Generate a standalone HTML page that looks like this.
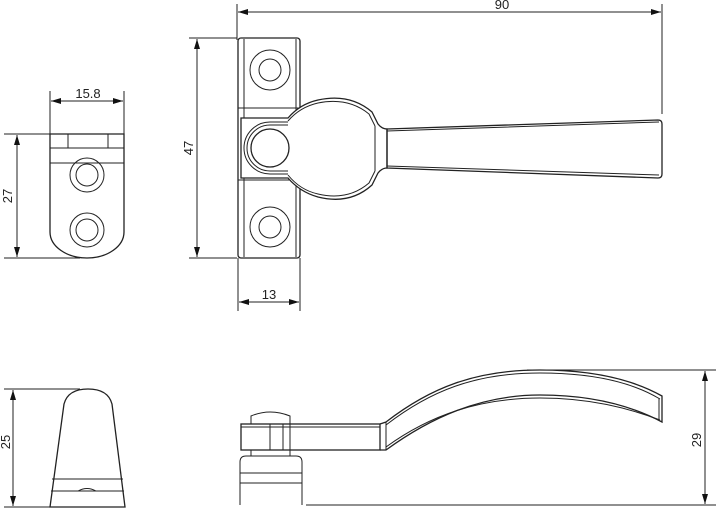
<!DOCTYPE html>
<html><head><meta charset="utf-8"><style>
html,body{margin:0;padding:0;background:#fff;}
svg{display:block}
text{font-family:"Liberation Sans",sans-serif;font-size:13px;fill:#222}
</style></head><body>
<svg width="717" height="508" viewBox="0 0 717 508" xmlns="http://www.w3.org/2000/svg">
<defs>
<marker id="a" viewBox="0 0 10 6" refX="10" refY="3" markerWidth="14" markerHeight="6" markerUnits="userSpaceOnUse" orient="auto-start-reverse">
<path d="M0,0 L10,3 L0,6 Z" fill="#111"/></marker>
</defs>
<g fill="none" stroke="#222" stroke-width="1">
<!-- 90 dim -->
<line x1="237" y1="4" x2="237" y2="40"/>
<line x1="662" y1="4" x2="662" y2="114"/>
<line x1="238" y1="12" x2="661" y2="12" marker-start="url(#a)" marker-end="url(#a)"/>
<!-- 47 dim -->
<line x1="189" y1="38" x2="237" y2="38"/>
<line x1="189" y1="258" x2="237" y2="258"/>
<line x1="197" y1="39" x2="197" y2="257" marker-start="url(#a)" marker-end="url(#a)"/>
<!-- 13 dim -->
<line x1="238" y1="258" x2="238" y2="311"/>
<line x1="300" y1="258" x2="300" y2="311"/>
<line x1="239" y1="302" x2="299" y2="302" marker-start="url(#a)" marker-end="url(#a)"/>
<!-- plate -->
<rect x="238" y="38" width="62" height="220" rx="3" stroke-width="1.3"/>
<line x1="244" y1="39" x2="244" y2="257"/>
<line x1="296" y1="39" x2="296" y2="257"/>
<line x1="238" y1="108" x2="300" y2="108"/>
<line x1="238" y1="180" x2="300" y2="180"/>
<circle cx="270" cy="70" r="20"/><circle cx="270" cy="70" r="11"/>
<circle cx="270" cy="227" r="20"/><circle cx="270" cy="227" r="11"/>
<!-- boss / bulb -->
<path d="M241,118 H288 Q300,104 318,100 Q350,93 372,112 L378,124 Q382,129 387,129 V168 Q382,168 378,173 L372,185 Q350,205 318,197 Q300,192 288,178 H241 Z" fill="#fff" stroke-width="1.3"/>
<path d="M288,121 Q300,107 318,103 Q348,97 369,114 L375,126 M375,171 L369,183 Q348,201 318,194 Q300,190 288,175"/>
<path d="M288,122 H270 A26,26 0 0 0 270,174 H288"/>
<path d="M288,125 H270 A23,23 0 0 0 270,171 H288"/>
<circle cx="270" cy="148" r="19" stroke-width="1.3"/>
<line x1="375" y1="126" x2="375" y2="171"/>
<!-- lever -->
<path d="M387,129 L658,120 Q662,120 662,124 V174 Q662,178 658,178 L387,168 Z" stroke-width="1.3"/>
<path d="M387,131 L659,122 M387,166 L659,175"/>
<!-- left view -->
<line x1="50" y1="91" x2="50" y2="134"/>
<line x1="124" y1="91" x2="124" y2="134"/>
<line x1="51" y1="101" x2="123" y2="101" marker-start="url(#a)" marker-end="url(#a)"/>
<line x1="4" y1="134" x2="50" y2="134"/>
<line x1="4" y1="258" x2="80" y2="258"/>
<line x1="17" y1="135" x2="17" y2="257" marker-start="url(#a)" marker-end="url(#a)"/>
<path d="M50,134 H124 V232 A37,26 0 0 1 87,258 A37,26 0 0 1 50,232 Z" stroke-width="1.3"/>
<line x1="50" y1="148" x2="124" y2="148"/>
<line x1="50" y1="163" x2="124" y2="163"/>
<line x1="68" y1="134" x2="68" y2="148"/>
<line x1="108" y1="134" x2="108" y2="148"/>
<circle cx="87" cy="175" r="17"/><circle cx="87" cy="175" r="11"/>
<circle cx="87" cy="230" r="17"/><circle cx="87" cy="230" r="11"/>
<!-- bottom left -->
<line x1="4" y1="389" x2="80" y2="389"/>
<line x1="4" y1="507" x2="50" y2="507"/>
<line x1="13" y1="390" x2="13" y2="506" marker-start="url(#a)" marker-end="url(#a)"/>
<path d="M50,507 L64,404 Q68,389 88,389 Q108,389 112,404 L125,507 Z" stroke-width="1.3"/>
<line x1="52" y1="479" x2="123" y2="479"/>
<line x1="51" y1="491" x2="124" y2="491"/>
<path d="M78,491 Q87,486 96,491"/>
<!-- bottom right -->
<line x1="527" y1="370" x2="716" y2="370"/>
<line x1="306" y1="505" x2="716" y2="505"/>
<line x1="705" y1="371" x2="705" y2="504" marker-start="url(#a)" marker-end="url(#a)"/>
<path d="M251,424 V416 Q270,408 290,416 V424"/>
<rect x="241" y="424" width="139" height="26" stroke-width="1.3"/>
<line x1="241" y1="427" x2="380" y2="427"/>
<line x1="270" y1="424" x2="270" y2="450"/>
<line x1="283" y1="424" x2="283" y2="450"/>
<line x1="290" y1="424" x2="290" y2="450"/>
<path d="M251,450 V456 M290,450 V456"/>
<path d="M240,505 V462 Q240,456 246,456 H296 Q302,456 302,462 V505"/>
<line x1="240" y1="473" x2="302" y2="473"/>
<line x1="240" y1="483" x2="302" y2="483"/>
<path d="M380,424 L386,422 C430,388 475,370 540,370 C590,370 630,378 662,396 V422 C630,405 590,395 540,395 C480,395 430,418 386,450 L380,450" stroke-width="1.3"/>
<path d="M386,425 C430,391 475,373 540,373 C590,373 630,381 660,399 M386,447 C430,415 480,398 540,398 C590,398 628,408 660,420"/>
<line x1="386" y1="422" x2="386" y2="450"/>
<line x1="659" y1="398" x2="659" y2="420"/>
</g>
<g>
<text x="502" y="9" text-anchor="middle">90</text>
<text x="269" y="299" text-anchor="middle">13</text>
<text x="88" y="98" text-anchor="middle">15.8</text>
<text transform="translate(193,148) rotate(-90)" text-anchor="middle">47</text>
<text transform="translate(12,196) rotate(-90)" text-anchor="middle">27</text>
<text transform="translate(10,442) rotate(-90)" text-anchor="middle">25</text>
<text transform="translate(701,440) rotate(-90)" text-anchor="middle">29</text>
</g>
</svg>
</body></html>
